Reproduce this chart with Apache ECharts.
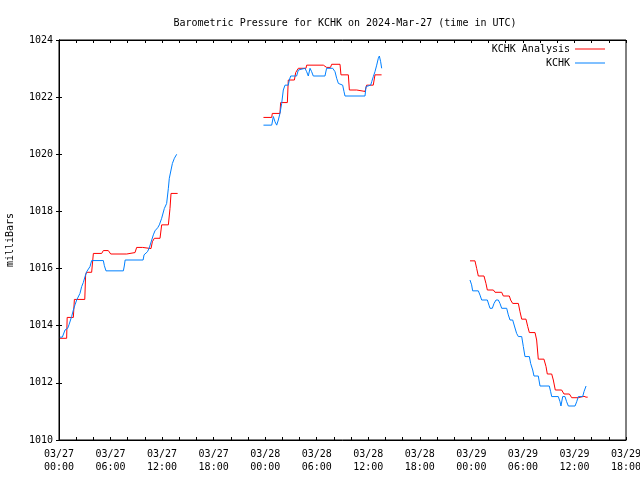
<!DOCTYPE html>
<html>
<head>
<meta charset="utf-8">
<script src="https://cdn.jsdelivr.net/npm/echarts@6/dist/echarts.min.js"></script>
<style>html,body{margin:0;padding:0;background:#fff}#c{width:640px;height:480px}</style>
</head>
<body>
<div id="c"></div>
<script>
// x values: hours since 2024-03-27 00:00 UTC
const titleText = 'Barometric Pressure for KCHK on 2024-Mar-27 (time in UTC)';
const yTicks = [1010, 1012, 1014, 1016, 1018, 1020, 1022, 1024];
const xTickHours = [0, 6, 12, 18, 24, 30, 36, 42, 48, 54, 60, 66];

const redSeg1 = [[0.1,1013.56],[0.89,1013.56],[0.95,1014.29],[1.67,1014.29],[1.79,1014.92],[3.0,1014.92],[3.1,1015.78],[3.2,1015.87],[3.8,1015.87],[4.0,1016.53],[4.97,1016.53],[5.16,1016.63],[5.74,1016.63],[6.02,1016.51],[7.88,1016.51],[7.99,1016.56],[8.85,1016.56],[9.04,1016.74],[9.74,1016.74],[9.79,1016.7],[10.71,1016.7],[10.87,1016.94],[11.1,1017.06],[11.76,1017.06],[11.95,1017.53],[12.73,1017.53],[12.92,1018.1],[13.04,1018.63],[13.81,1018.63]];
const redSeg2 = [[23.8,1021.29],[24.76,1021.29],[24.83,1021.43],[25.72,1021.43],[25.8,1021.81],[26.58,1021.81],[26.69,1022.6],[27.4,1022.6],[27.55,1022.86],[27.86,1023.01],[28.75,1023.01],[28.83,1023.12],[30.77,1023.12],[31.16,1023.04],[31.6,1023.04],[31.74,1023.15],[32.71,1023.15],[32.82,1022.78],[33.68,1022.78],[33.8,1022.25],[34.65,1022.25],[34.84,1022.2],[35.62,1022.2],[35.81,1022.42],[36.58,1022.42],[36.78,1022.78],[37.55,1022.78]];
const redSeg3 = [[47.84,1016.27],[48.42,1016.27],[48.62,1016.0],[48.81,1015.74],[49.47,1015.74],[49.7,1015.48],[49.86,1015.25],[50.56,1015.25],[50.75,1015.17],[51.53,1015.17],[51.72,1015.04],[52.42,1015.04],[52.57,1014.9],[52.81,1014.78],[53.47,1014.78],[53.66,1014.49],[53.86,1014.23],[54.36,1014.23],[54.56,1013.97],[54.75,1013.76],[55.41,1013.76],[55.6,1013.5],[55.79,1012.83],[56.45,1012.83],[56.69,1012.57],[56.84,1012.31],[57.35,1012.31],[57.54,1012.1],[57.77,1011.75],[58.51,1011.75],[58.78,1011.61],[59.41,1011.61],[59.68,1011.48],[60.45,1011.48],[60.65,1011.53],[61.11,1011.53],[61.35,1011.5],[61.54,1011.5]];

const blueSeg1 = [[0.1,1013.6],[0.39,1013.6],[0.7,1013.85],[1.01,1013.91],[1.16,1014.03],[1.47,1014.32],[1.67,1014.55],[1.86,1014.73],[2.06,1014.9],[2.25,1014.96],[2.44,1015.13],[2.64,1015.37],[2.83,1015.51],[3.03,1015.72],[3.22,1015.89],[3.41,1015.89],[3.61,1016.07],[3.8,1016.28],[5.16,1016.28],[5.28,1016.1],[5.47,1015.92],[7.49,1015.92],[7.6,1016.09],[7.7,1016.3],[9.79,1016.3],[9.9,1016.48],[10.3,1016.59],[10.5,1016.72],[10.98,1017.18],[11.17,1017.32],[11.49,1017.43],[11.68,1017.53],[11.95,1017.76],[12.26,1018.1],[12.53,1018.28],[12.73,1018.81],[12.84,1019.16],[13.04,1019.45],[13.2,1019.68],[13.43,1019.86],[13.7,1020.0]];
const blueSeg2 = [[23.8,1021.02],[24.76,1021.02],[24.95,1021.32],[25.14,1021.14],[25.34,1021.02],[25.53,1021.2],[25.72,1021.43],[25.92,1021.78],[26.11,1022.25],[26.31,1022.42],[26.69,1022.42],[26.81,1022.6],[26.97,1022.74],[27.66,1022.74],[27.86,1022.95],[27.97,1023.01],[28.63,1023.01],[28.83,1022.89],[29.02,1022.74],[29.22,1023.01],[29.41,1022.89],[29.6,1022.74],[30.96,1022.74],[31.15,1023.01],[31.86,1023.01],[32.13,1022.89],[32.32,1022.66],[32.52,1022.48],[32.71,1022.42],[33.02,1022.42],[33.18,1022.19],[33.29,1022.04],[35.62,1022.04],[35.74,1022.37],[35.81,1022.42],[36.28,1022.42],[36.4,1022.54],[36.59,1022.72],[36.78,1022.89],[36.98,1023.12],[37.17,1023.36],[37.29,1023.44],[37.44,1023.24],[37.56,1023.01]];
const blueSeg3 = [[47.84,1015.6],[48.03,1015.43],[48.15,1015.22],[48.81,1015.22],[49.01,1015.07],[49.2,1014.9],[49.86,1014.9],[50.05,1014.72],[50.17,1014.61],[50.44,1014.61],[50.64,1014.78],[50.87,1014.9],[51.14,1014.9],[51.33,1014.78],[51.53,1014.61],[52.11,1014.61],[52.3,1014.38],[52.5,1014.2],[52.81,1014.2],[53.08,1013.92],[53.27,1013.73],[53.47,1013.62],[53.86,1013.62],[54.05,1013.27],[54.24,1012.92],[54.75,1012.92],[54.9,1012.68],[55.14,1012.45],[55.29,1012.24],[55.79,1012.24],[55.99,1011.89],[57.07,1011.89],[57.23,1011.69],[57.35,1011.52],[58.12,1011.52],[58.32,1011.34],[58.43,1011.19],[58.63,1011.52],[58.9,1011.52],[59.09,1011.34],[59.29,1011.19],[60.07,1011.19],[60.26,1011.34],[60.45,1011.52],[60.96,1011.52],[61.11,1011.69],[61.35,1011.89]];

const redName = 'KCHK Analysis';
const blueName = 'KCHK';
const RED = '#ff0000';
const BLUE = '#0080ff';
const FONT = 'DejaVu Sans Mono';

function xLabel(h) {
  const day = 27 + Math.floor(h / 24);
  const hr = h % 24;
  return '03/' + day + '\n' + (hr < 10 ? '0' : '') + hr + ':00';
}

function mk(name, color, data) {
  return { name: name, type: 'line', data: data, showSymbol: false, symbol: 'none',
    lineStyle: { color: color, width: 1 }, itemStyle: { color: color }, animation: false,
    xAxisIndex: 0, yAxisIndex: 0 };
}

const chart = echarts.init(document.getElementById('c'), null, { renderer: 'canvas' });
const common = { fontFamily: FONT, fontSize: 10, color: '#000' };
chart.setOption({
  animation: false,
  backgroundColor: '#fff',
  title: { text: titleText, left: 340, top: 13, textAlign: 'center',
    textStyle: { fontFamily: FONT, fontSize: 10, fontWeight: 'normal', color: '#000' } },
  legend: {
    orient: 'vertical', right: 30, top: 39, align: 'right', itemGap: 4,
    itemWidth: 30, itemHeight: 1, icon: 'rect',
    textStyle: { ...common, padding: [0, 0, 0, 0] },
    data: [redName, blueName]
  },
  grid: { left: 59, right: 14, top: 40, bottom: 40, show: true, borderColor: '#000', borderWidth: 1,
    backgroundColor: 'transparent', containLabel: false, outerBoundsMode: 'none' },
  xAxis: [
    { type: 'value', min: 0, max: 66, interval: 6,
      axisLine: { show: true, lineStyle: { color: '#000', width: 1 } },
      axisTick: { show: true, inside: true, length: 3, lineStyle: { color: '#000' } },
      minorTick: { show: true, splitNumber: 3, length: 3, lineStyle: { color: '#000' } },
      splitLine: { show: false },
      axisLabel: { formatter: v => xLabel(v), margin: 8, lineHeight: 13, ...common } },
    { type: 'value', position: 'top', min: 0, max: 66, interval: 6,
      axisLine: { show: true, lineStyle: { color: '#000' } },
      axisTick: { show: true, inside: true, length: 3, lineStyle: { color: '#000' } },
      minorTick: { show: true, splitNumber: 3, length: 3, lineStyle: { color: '#000' } },
      splitLine: { show: false }, axisLabel: { show: false } }
  ],
  yAxis: [
    { type: 'value', min: 1010, max: 1024, interval: 2, name: 'milliBars', nameLocation: 'middle', nameGap: 44,
      nameTextStyle: common,
      axisLine: { show: true, lineStyle: { color: '#000' } },
      axisTick: { show: true, inside: true, length: 3, lineStyle: { color: '#000' } },
      splitLine: { show: false },
      axisLabel: { margin: 6, formatter: v => String(v), ...common } },
    { type: 'value', position: 'right', min: 1010, max: 1024, interval: 2,
      axisLine: { show: true, lineStyle: { color: '#000' } },
      axisTick: { show: true, inside: true, length: 3, lineStyle: { color: '#000' } },
      splitLine: { show: false }, axisLabel: { show: false } }
  ],
  series: [
    mk(redName, RED, redSeg1), mk(redName, RED, redSeg2), mk(redName, RED, redSeg3),
    mk(blueName, BLUE, blueSeg1), mk(blueName, BLUE, blueSeg2), mk(blueName, BLUE, blueSeg3)
  ]
});
</script>
</body>
</html>
